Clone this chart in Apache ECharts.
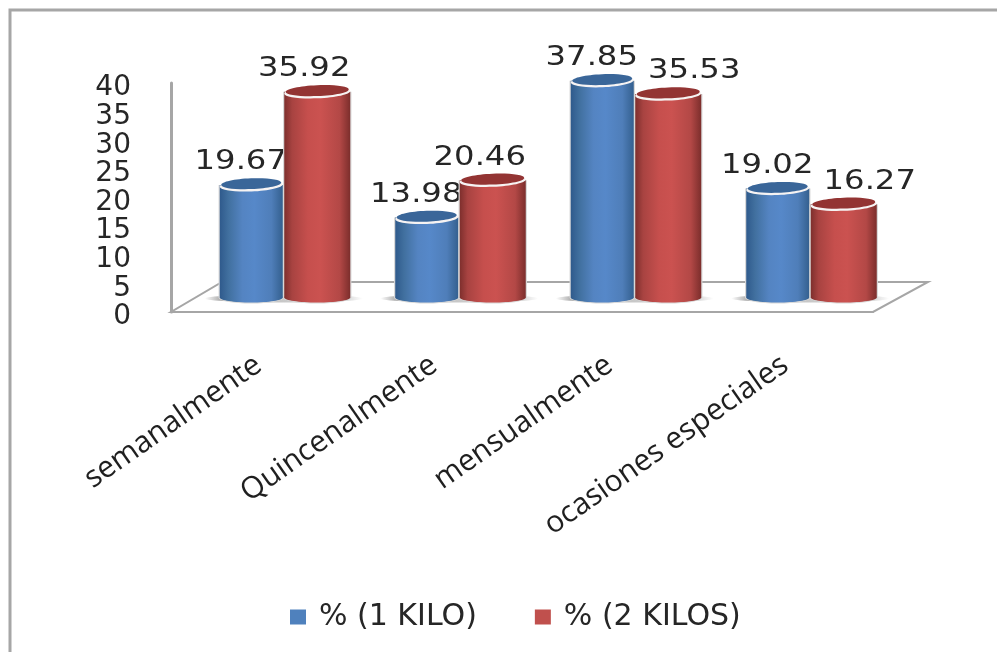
<!DOCTYPE html>
<html>
<head>
<meta charset="utf-8">
<style>html,body{margin:0;padding:0;background:#fff}#chart{width:997px;height:652px}</style>
<script src="https://cdn.jsdelivr.net/npm/echarts@6/dist/echarts.min.js"></script>
</head>
<body>
<div id="chart"></div>
<script>
// Purchase frequency by package size
const categories = ['semanalmente', 'Quincenalmente', 'mensualmente', 'ocasiones especiales'];
const oneKilo = [19.67, 13.98, 37.85, 19.02];
const twoKilos = [35.92, 20.46, 35.53, 16.27];
const seriesNames = ['% (1 KILO)', '% (2 KILOS)'];

// Oblique projection of the 3D floor
const DEPTH_X = 25, DEPTH_Y = 14.5;
const FLOOR_BACK = 30;
const GREY = '#a6a6a6';
const TEXT = '#262626';

const bluePalette = {
  side: [[0, '#2f5a8c'], [0.14, '#41709f'], [0.36, '#5484c2'], [0.55, '#5688c9'], [0.82, '#4f7eb9'], [1, '#34608f']],
  top: '#3a6699'
};
const redPalette = {
  side: [[0, '#7e2f2d'], [0.12, '#a84341'], [0.36, '#c64f4d'], [0.55, '#cb5250'], [0.84, '#b34846'], [1, '#7c2e2c']],
  top: '#933433'
};

function sideGradient(stops) {
  return new echarts.graphic.LinearGradient(0, 0, 1, 0, stops.map(s => ({ offset: s[0], color: s[1] })));
}

// One cylinder standing on the floor, with its value above the cap
function cylinder(palette, centerShift, halfWidth, labelShift) {
  return function (params, api) {
    const i = api.value(0), v = api.value(1);
    const cx = api.coord([i, 0])[0] + DEPTH_X + centerShift;
    const base = api.coord([i, 0])[1] - DEPTH_Y;
    const top = api.coord([i, v])[1] - DEPTH_Y;
    const ry = 5;
    const fill = sideGradient(palette.side);
    const dx = labelShift(i);
    return {
      type: 'group',
      children: [
        { type: 'rect', shape: { x: cx - halfWidth - 1.2, y: top, width: halfWidth * 2 + 2.4, height: base - top }, style: { fill: '#d8d8d8' } },
        { type: 'ellipse', shape: { cx: cx, cy: base, rx: halfWidth + 1.2, ry: ry + 1 }, style: { fill: '#d8d8d8' } },
        { type: 'rect', shape: { x: cx - halfWidth, y: top, width: halfWidth * 2, height: base - top }, style: { fill: fill } },
        { type: 'ellipse', shape: { cx: cx, cy: base, rx: halfWidth, ry: ry }, style: { fill: fill } },
        { type: 'ellipse', x: cx, y: top + 0.5, rotation: 0.04, shape: { cx: 0, cy: 0, rx: halfWidth, ry: ry + 1 }, style: { fill: '#f6f3f3' } },
        { type: 'ellipse', x: cx, y: top - 1.2, rotation: 0.04, shape: { cx: 0, cy: 0, rx: halfWidth - 1.5, ry: ry + 0.4 }, style: { fill: palette.top } },
        {
          type: 'text', x: cx + dx, y: top - 22.5, scaleX: 1.24, z2: 100,
          style: { text: v.toFixed(2), fill: TEXT, font: '26px "DejaVu Sans"', align: 'center', verticalAlign: 'middle' }
        }
      ]
    };
  };
}

// Floor plane and the soft contact shadows under each pair of cylinders
function floor(params, api) {
  const g = params.coordSys;
  const y0 = g.y + g.height, x0 = g.x, x1 = g.x + g.width;
  const children = [{
    type: 'polygon',
    shape: { points: [[x0, y0], [x1, y0], [x1 + 55, y0 - FLOOR_BACK], [x0 + 51, y0 - FLOOR_BACK]] },
    style: { fill: '#fff', stroke: GREY, lineWidth: 2 }
  }];
  categories.forEach((c, i) => {
    const cx = api.coord([i, 0])[0] + DEPTH_X;
    children.push({
      type: 'ellipse',
      shape: { cx: cx, cy: y0 - DEPTH_Y + 1, rx: 79, ry: 4 },
      style: {
        fill: new echarts.graphic.LinearGradient(0, 0, 1, 0, [
          { offset: 0, color: 'rgba(140,140,140,0)' },
          { offset: 0.09, color: 'rgba(140,140,140,0.65)' },
          { offset: 0.9, color: 'rgba(170,170,170,0.45)' },
          { offset: 1, color: 'rgba(170,170,170,0)' }
        ])
      }
    });
  });
  return { type: 'group', children: children };
}

const chart = echarts.init(document.getElementById('chart'), null, { renderer: 'canvas' });
chart.setOption({
  animation: false,
  backgroundColor: '#fff',
  graphic: [{
    type: 'rect', z: -1, silent: true,
    shape: { x: 10, y: 10, width: 1100, height: 800 },
    style: { fill: '#fff', stroke: GREY, lineWidth: 3 }
  }],
  grid: { left: 171, top: 83, width: 702, height: 229 },
  legend: {
    data: seriesNames,
    left: 290,
    top: 602,
    padding: 0,
    icon: 'rect',
    itemWidth: 16,
    itemHeight: 15,
    itemGap: 58,
    textStyle: { fontFamily: 'DejaVu Sans', fontSize: 30, color: TEXT, padding: [0, 0, 0, 8] }
  },
  xAxis: {
    type: 'category',
    data: categories,
    axisLine: { show: true, lineStyle: { color: GREY, width: 2 } },
    axisTick: { show: false },
    axisLabel: { rotate: 35, margin: 50, interval: 0, fontFamily: 'Open Sans', fontSize: 30, color: '#1f1f1f' }
  },
  yAxis: {
    type: 'value',
    min: 0,
    max: 40,
    interval: 5,
    splitLine: { show: false },
    axisTick: { show: false },
    axisLine: { show: true, lineStyle: { color: GREY, width: 3 } },
    axisLabel: { margin: 40, verticalAlign: 'top', lineHeight: 10, fontFamily: 'DejaVu Sans', fontSize: 28, color: TEXT }
  },
  series: [
    { type: 'custom', name: 'floor', z: 1, silent: true, renderItem: floor, data: [[0, 0]], encode: { x: 0, y: 1 } },
    {
      type: 'custom', name: seriesNames[0], z: 2,
      itemStyle: { color: '#4f81bd' },
      renderItem: cylinder(bluePalette, -32.5, 31.5, () => -10.5),
      data: oneKilo.map((v, i) => [i, v]),
      encode: { x: 0, y: 1 }
    },
    {
      type: 'custom', name: seriesNames[1], z: 3,
      itemStyle: { color: '#c0504d' },
      // The label sits to the right when the neighbouring blue cylinder is taller
      renderItem: cylinder(redPalette, 33.5, 33, i => (twoKilos[i] < oneKilo[i] ? 26 : -13)),
      data: twoKilos.map((v, i) => [i, v]),
      encode: { x: 0, y: 1 }
    }
  ]
});
</script>
</body>
</html>
